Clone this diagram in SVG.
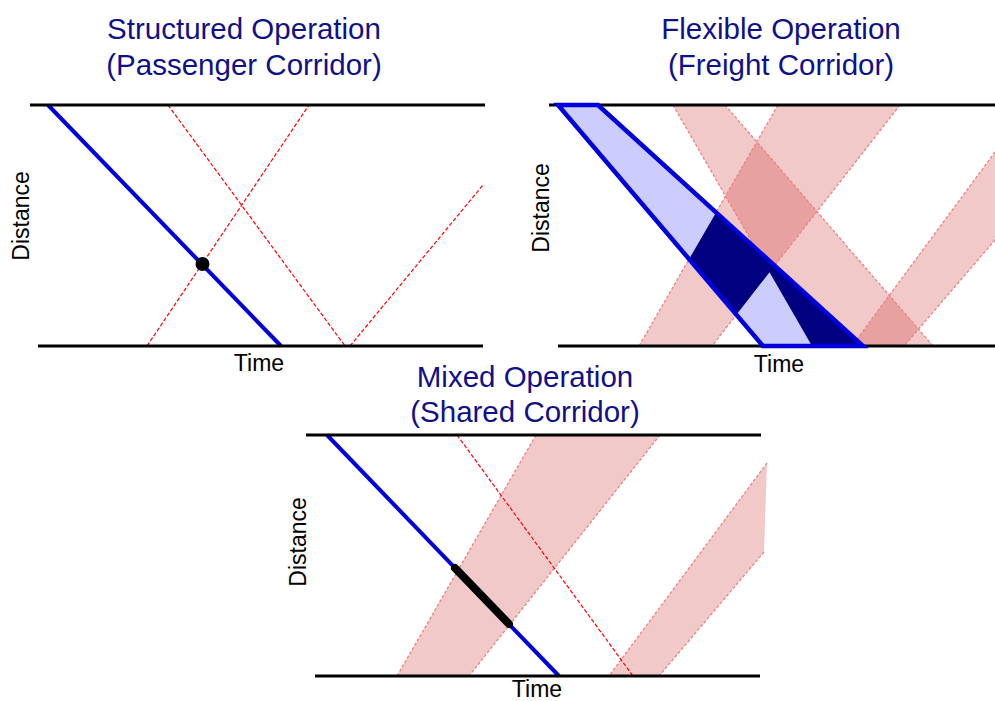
<svg xmlns="http://www.w3.org/2000/svg" width="995" height="701" viewBox="0 0 995 701">
<style>
.title{font-family:"Liberation Sans",Arial,sans-serif;font-size:29.5px;fill:#10108a;text-anchor:middle}
.lab{font-family:"Liberation Sans",Arial,sans-serif;font-size:23px;fill:#000;text-anchor:middle}
.axis{stroke:#000;stroke-width:3;fill:none}
.train{stroke:#0000dd;stroke-width:4;fill:none}
.rd{stroke:#ff0000;stroke-width:1.2;stroke-dasharray:4 2;fill:none}
.band{fill:#cf3636;fill-opacity:0.27;stroke:none}
.bedge{stroke:#f08080;stroke-width:1.3;stroke-dasharray:3 2;fill:none}
</style>
<rect width="995" height="701" fill="#fff"/>

<g id="panel-structured">
  <text class="title" x="244" y="39">Structured Operation</text>
  <text class="title" x="244" y="75">(Passenger Corridor)</text>
  <line class="rd" x1="168" y1="105" x2="345" y2="346"/>
  <line class="rd" x1="147" y1="346" x2="309" y2="105"/>
  <line class="rd" x1="350" y1="346" x2="483" y2="185"/>
  <line class="train" x1="48" y1="105" x2="281" y2="346"/>
  <circle cx="202.5" cy="264" r="7" fill="#000"/>
  <line class="axis" x1="30" y1="105" x2="485" y2="105"/>
  <line class="axis" x1="38" y1="346" x2="483" y2="346"/>
  <text class="lab" transform="translate(29,216) rotate(-90)">Distance</text>
  <text class="lab" x="259" y="371">Time</text>
</g>

<g id="panel-flexible">
  <text class="title" x="781" y="39">Flexible Operation</text>
  <text class="title" x="781" y="75">(Freight Corridor)</text>
  <polygon class="band" points="673,105 725,105 933,346 812,346"/>
  <polygon class="band" points="778,105 900,105 712,346 639,346"/>
  <polygon class="band" points="995,152 995,240 904,346 852,346"/>
  <line class="bedge" x1="673" y1="105" x2="812" y2="346"/>
  <line class="bedge" x1="725" y1="105" x2="933" y2="346"/>
  <line class="bedge" x1="778" y1="105" x2="639" y2="346"/>
  <line class="bedge" x1="900" y1="105" x2="712" y2="346"/>
  <line class="bedge" x1="995" y1="152" x2="852" y2="346"/>
  <line class="bedge" x1="995" y1="240" x2="904" y2="346"/>
  <polygon points="558,105 598,105 863,346 763,346" fill="#ccccff"/>
  <polygon points="716.1,212.4 863,346 812,346 769.5,272.3 736.4,314.7 689.1,259.1" fill="#000080"/>
  <line class="axis" x1="549" y1="105" x2="995" y2="105"/>
  <line class="axis" x1="558" y1="346" x2="995" y2="346"/>
  <polygon points="558,105 598,105 863,346 763,346" fill="none" stroke="#0000dd" stroke-width="4.5" stroke-linejoin="miter"/>
  <text class="lab" transform="translate(549,208) rotate(-90)">Distance</text>
  <text class="lab" x="779" y="372">Time</text>
</g>

<g id="panel-mixed">
  <text class="title" x="525" y="387">Mixed Operation</text>
  <text class="title" x="525" y="422">(Shared Corridor)</text>
  <polygon class="band" points="536,435 660,435 469,676 397,676"/>
  <polygon class="band" points="767,463 764,552 659,676 609,676"/>
  <line class="bedge" x1="536" y1="435" x2="397" y2="676"/>
  <line class="bedge" x1="660" y1="435" x2="469" y2="676"/>
  <line class="bedge" x1="767" y1="463" x2="609" y2="676"/>
  <line class="bedge" x1="764" y1="552" x2="659" y2="676"/>
  <line class="rd" x1="457" y1="435" x2="633" y2="676"/>
  <line class="train" x1="327" y1="435" x2="559" y2="676"/>
  <line x1="455" y1="568" x2="509" y2="624" stroke="#000" stroke-width="8" stroke-linecap="round"/>
  <line class="axis" x1="306" y1="435" x2="761" y2="435"/>
  <line class="axis" x1="315" y1="676" x2="760" y2="676"/>
  <text class="lab" transform="translate(306,542) rotate(-90)">Distance</text>
  <text class="lab" x="537" y="697">Time</text>
</g>
</svg>
